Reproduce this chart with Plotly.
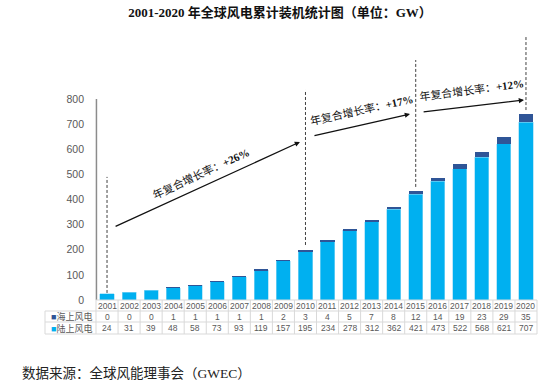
import plotly.graph_objects as go

years = [str(y) for y in range(2001, 2021)]
offshore = [0, 0, 0, 1, 1, 1, 1, 1, 2, 3, 4, 5, 7, 8, 12, 14, 19, 23, 29, 35]
onshore = [24, 31, 39, 48, 58, 73, 93, 119, 157, 195, 234, 278, 312, 362, 421, 473, 522, 568, 621, 707]
y_ticks = [0, 100, 200, 300, 400, 500, 600, 700, 800]

title_text = "2001-2020 年全球风电累计装机统计图（单位：GW）"
source_text = "数据来源：全球风能理事会（GWEC）"
row_labels = ["海上风电", "陆上风电"]

# growth-rate annotations: (label, rate, x index, y value, angle)
cagr_label = "年复合增长率："
cagr_rates = ["+26%", "+17%", "+12%"]
cagr_pos = [(4.22, 505, -25), (11.56, 758, -12.5), (16.55, 838, -7.5)]
# arrows: (tail x, tail y, head x, head y)
arrows = [(0.32, 290, 8.75, 629), (9.34, 653, 13.74, 740), (14.29, 748, 18.91, 796)]
# dashed markers: (category index, bottom, top)
dashes = [(0, 28, 490), (9, 219, 836), (14, 450, 955), (19, 756, 1047)]

C_ON = "#00B0F0"
C_OFF = "#2F5597"
GRID = "#d9d9d9"
TXT = "#595959"

fig = go.Figure()
fig.add_trace(go.Bar(x=years, y=onshore, name="陆上风电", marker=dict(color=C_ON, line=dict(width=0.6, color="#8fd8f5"))))
fig.add_trace(go.Bar(x=years, y=offshore, name="海上风电", marker=dict(color=C_OFF, line=dict(width=0))))

H = 270.0
W = 441.0
def py(p):
    return (300 - p) / H
def px(p):
    return (p - 96) / W

shapes = []
# y axis line
shapes.append(dict(type="line", xref="paper", yref="y", x0=0.001, x1=0.001, y0=0, y1=800,
                   line=dict(color="#8c8c8c", width=1.5)))
# table horizontal lines
for p, x0 in [(300, 0), (311, px(45)), (322, px(45)), (334, px(45))]:
    shapes.append(dict(type="line", xref="paper", yref="paper", x0=x0, x1=1, y0=py(p), y1=py(p),
                       line=dict(color=GRID, width=1)))
# table vertical lines
shapes.append(dict(type="line", xref="paper", yref="paper", x0=px(45), x1=px(45), y0=py(311), y1=py(334),
                   line=dict(color=GRID, width=1)))
for i in range(len(years) + 1):
    xp = i / len(years)
    shapes.append(dict(type="line", xref="paper", yref="paper", x0=xp, x1=xp, y0=py(300), y1=py(334),
                       line=dict(color=GRID, width=1)))
# dashed markers
for xi, b, t in dashes:
    shapes.append(dict(type="line", xref="x", yref="y", x0=xi, x1=xi, y0=b, y1=t,
                       line=dict(color="#404040", width=1, dash="3px,2px")))

ann = []
tf = dict(family="Liberation Sans, Arial, Noto Sans CJK SC", size=8.5, color=TXT)
for i, yr in enumerate(years):
    ann.append(dict(x=i, xref="x", y=py(305.5), yref="paper", text=yr, showarrow=False, font=tf, yanchor="middle"))
    ann.append(dict(x=i, xref="x", y=py(316.5), yref="paper", text=str(offshore[i]), showarrow=False, font=tf, yanchor="middle"))
    ann.append(dict(x=i, xref="x", y=py(328), yref="paper", text=str(onshore[i]), showarrow=False, font=tf, yanchor="middle"))
ann.append(dict(x=px(49), xref="paper", y=py(316.5), yref="paper", xanchor="left", yanchor="middle", showarrow=False,
                text=f"<span style='color:{C_OFF}'>■</span>{row_labels[0]}", font=dict(tf, size=9)))
ann.append(dict(x=px(49), xref="paper", y=py(328), yref="paper", xanchor="left", yanchor="middle", showarrow=False,
                text=f"<span style='color:{C_ON}'>■</span>{row_labels[1]}", font=dict(tf, size=9)))

sf = dict(family="Liberation Serif, Times New Roman, Noto Sans CJK SC", size=11, color="#111111")
for rate, (xi, yv, ang) in zip(cagr_rates, cagr_pos):
    ann.append(dict(x=xi, xref="x", y=yv, yref="y", text=f"{cagr_label}<b>{rate}</b>", showarrow=False,
                    textangle=ang, font=sf))
for tx, ty, hx, hy in arrows:
    ann.append(dict(x=hx, y=hy, xref="x", yref="y", ax=tx, ay=ty, axref="x", ayref="y", text="",
                    showarrow=True, arrowhead=2, arrowsize=0.8, arrowwidth=1.3, arrowcolor="#111111", standoff=0))

ann.append(dict(x=px(20), xref="paper", y=py(373), yref="paper", xanchor="left", yanchor="middle", showarrow=False,
                text=source_text, font=dict(family="Liberation Serif, Noto Sans CJK SC", size=13.5, color="#222222")))

fig.update_layout(
    width=560, height=388,
    margin=dict(l=96, r=23, t=30, b=88),
    paper_bgcolor="white", plot_bgcolor="white",
    barmode="stack", bargap=0.36, showlegend=False,
    title=dict(text=f"<b>{title_text}</b>", x=0.5, xanchor="center", y=1 - 12 / 388, yanchor="middle",
               font=dict(family="Liberation Serif, Times New Roman, Noto Sans CJK SC", size=13, color="#111111")),
    xaxis=dict(type="category", range=[-0.5, 19.5], showticklabels=False, showgrid=False, zeroline=False,
               showline=False, ticks=""),
    yaxis=dict(range=[0, 1074.6], tickvals=y_ticks, showgrid=False, zeroline=False, showline=False,
               ticks="", ticklabelstandoff=11,
               tickfont=dict(family="Liberation Sans, Arial", size=10.5, color=TXT)),
    shapes=shapes, annotations=ann,
)

fig.write_html("out.html", config={"displayModeBar": False},
               post_script="document.body.style.margin='0';document.body.style.overflow='hidden';")
